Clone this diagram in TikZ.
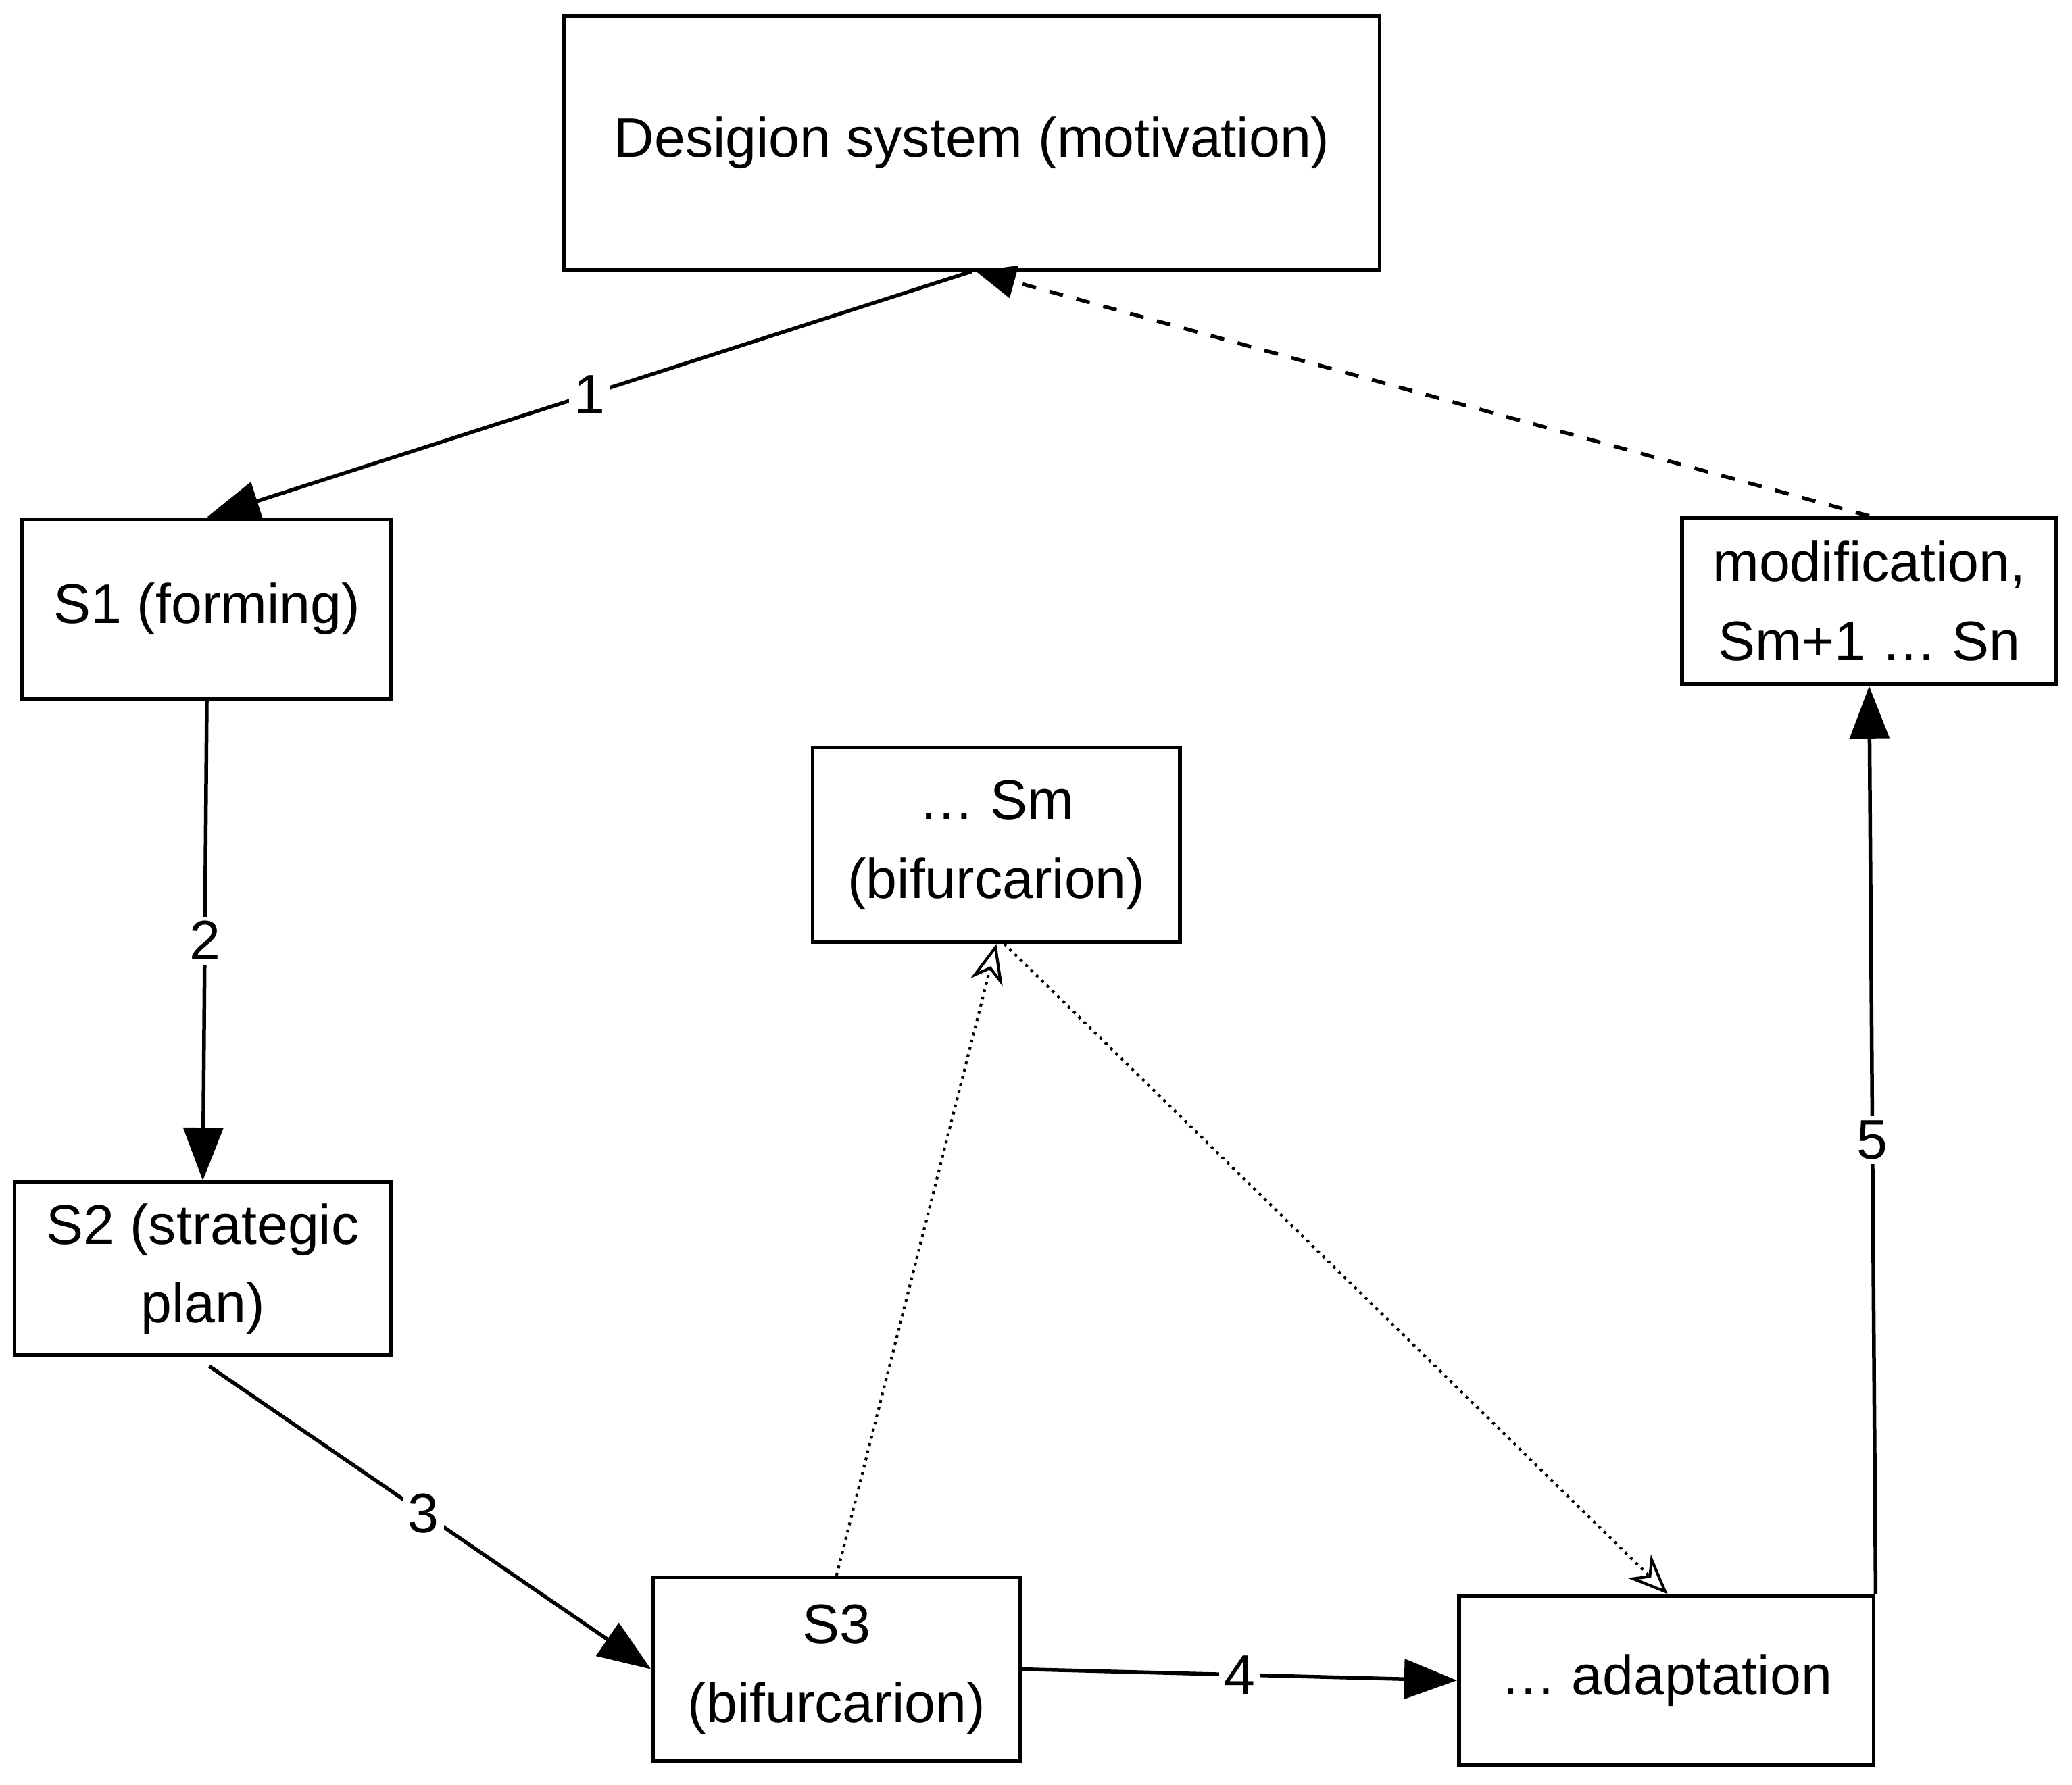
\documentclass[tikz,border=0pt]{standalone}
\usepackage{fontspec}
\setmainfont{Liberation Sans}
\usetikzlibrary{arrows.meta,positioning}
\tikzset{
  box/.style={draw, thick, align=center, inner sep=0pt, font=\fontsize{12}{17}\selectfont},
  arrow/.style={thick, -{Triangle[length=4mm,width=3mm]}},
  lbl/.style={fill=white, inner sep=1pt, font=\fontsize{12}{14}\selectfont}
}
\begin{document}
\begin{tikzpicture}
    \useasboundingbox (0,0) rectangle (15.68,13.51);

    \node[box, minimum width=6.17cm, minimum height=1.92cm] (sys) at (7.355,12.43) {Desigion system (motivation)};
    \node[box, minimum width=2.79cm, minimum height=1.36cm] (s1) at (1.565,8.90) {S1 (forming)};
    \node[box, minimum width=2.85cm, minimum height=1.31cm] (s2) at (1.535,3.905) {S2 (strategic\\plan)};
    \node[box, minimum width=2.78cm, minimum height=1.47cm] (sm) at (7.54,7.115) {\dots\ Sm\\(bifurcarion)};
    \node[box, minimum width=2.78cm, minimum height=1.39cm] (s3) at (6.33,0.875) {S3\\(bifurcarion)};
    \node[box, minimum width=3.14cm, minimum height=1.28cm] (adapt) at (12.61,0.79) {\dots\ adaptation};
    \node[box, minimum width=2.83cm, minimum height=1.26cm] (mod) at (14.145,8.96) {modification,\\Sm+1 \dots\ Sn};

    \draw[arrow] (sys.south) -- node[lbl] {1} (s1.north);
    \draw[arrow] (s1.south) -- node[lbl] {2} (s2.north);
    \draw[arrow, shorten <=0.12cm] ([xshift=-0.05cm]s2.south) -- node[lbl] {3} (s3.west);
    \draw[arrow] (s3.east) -- node[lbl] {4} (adapt.west);
    \draw[arrow] (adapt.north east) -- node[lbl] {5} (mod.south);

    \draw[thick, dashed, -{Triangle[length=3mm,width=2.5mm]}] (mod.north) -- ([xshift=0.03cm]sys.south);
    \draw[semithick, densely dotted, -{Stealth[length=3mm,width=2.5mm,open]}] (s3.north) -- (sm.south);
    \draw[semithick, densely dotted, -{Stealth[length=3mm,width=2.5mm,open]}] ([xshift=0.06cm]sm.south) -- ([xshift=0.01cm]adapt.north);
\end{tikzpicture}
\end{document}
